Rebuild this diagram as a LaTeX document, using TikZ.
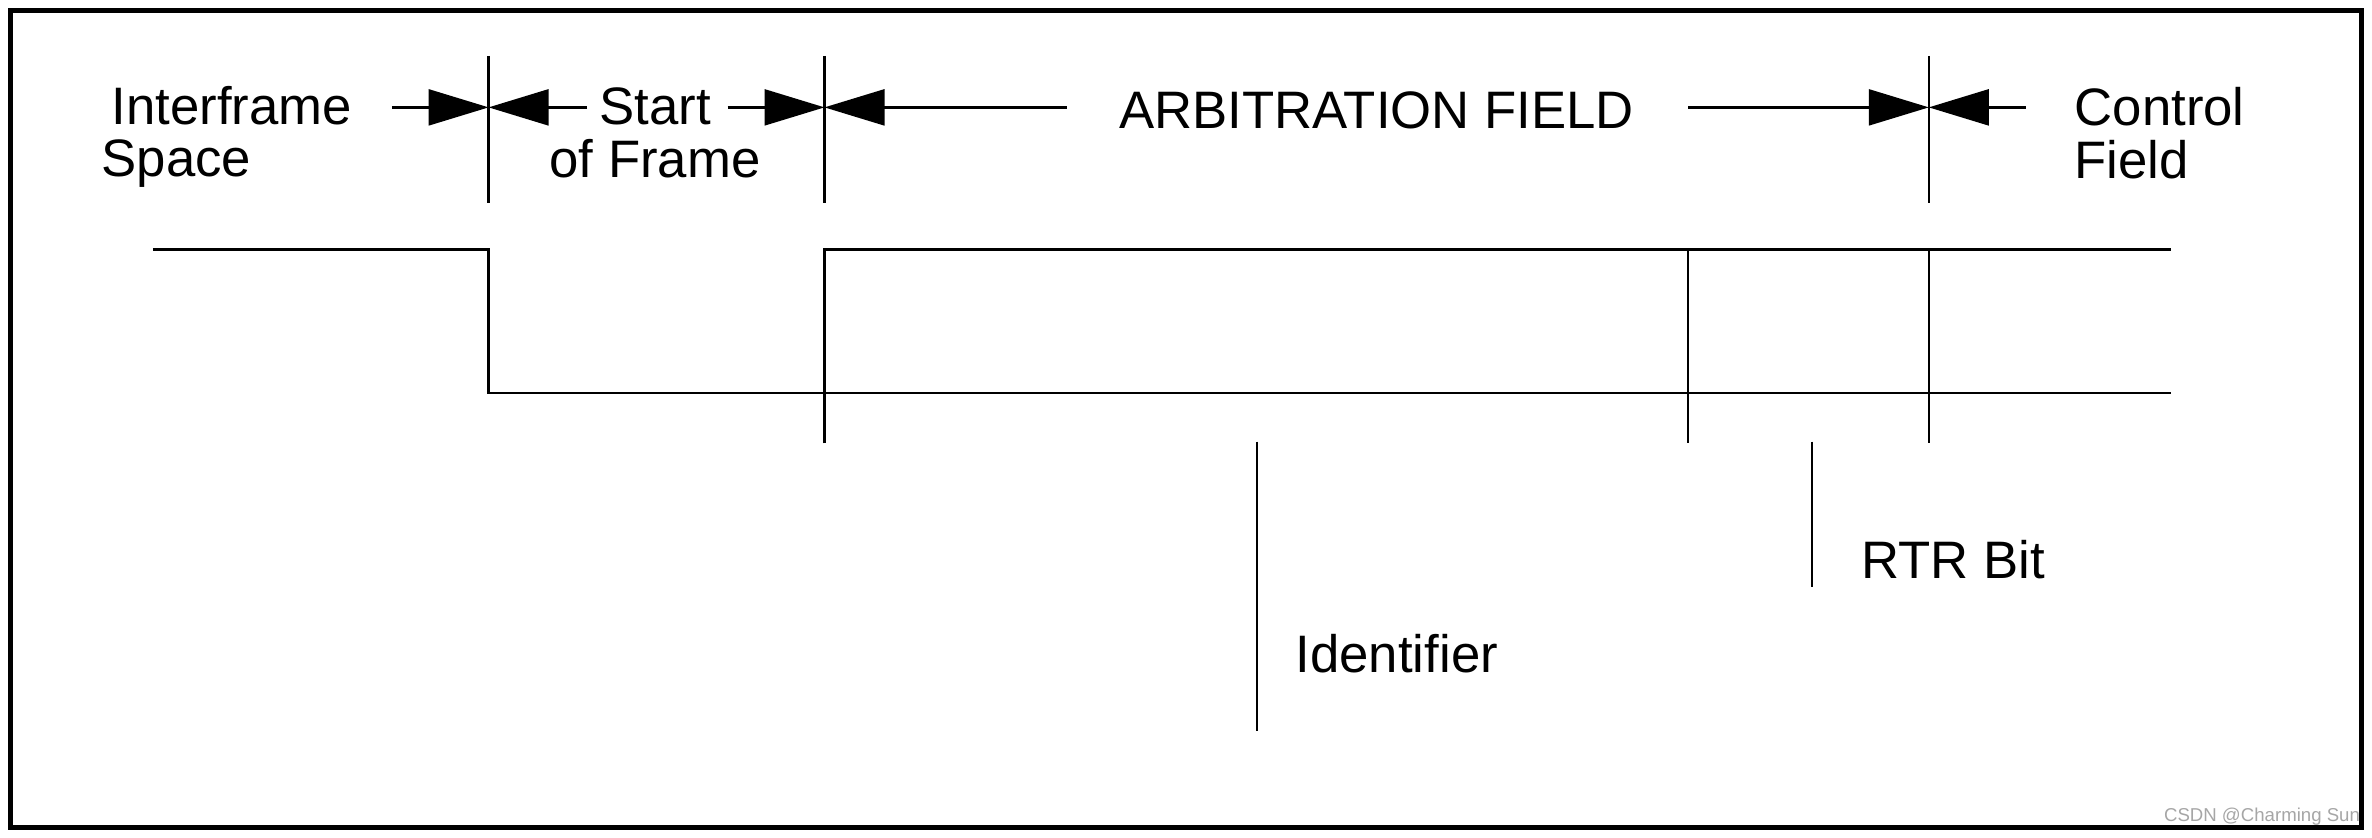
\documentclass[tikz,border=0pt]{standalone}
\usepackage{fontspec}
\setmainfont{Liberation Sans}
\usetikzlibrary{arrows.meta}

\tikzset{
  fieldlabel/.style={inner sep=0pt, font=\fontsize{15}{15}\selectfont},
  dimarrow/.style={line width=0.65pt, -{Triangle[length=0.6cm,width=0.36cm]}},
  sigline/.style={line width=0.65pt},
}

\begin{document}
\begin{tikzpicture}
  \useasboundingbox (0,0) rectangle (23.72,8.38);
  \draw[line width=1.3pt] (0.105,0.105) rectangle (23.615,8.274);

  % Field boundaries above the bus levels.
  \foreach \x/\name in {4.886/b1, 8.245/b2, 19.288/b3} {
    \coordinate (\name t) at (\x,7.82);
    \coordinate (\name b) at (\x,6.353);
    \coordinate (\name m) at (\x,7.306);
    \draw[sigline] (\name t) -- (\name b);
  }

  % Field names.
  \node[fieldlabel,align=left,anchor=west] (ifs) at (1.01,7.01) {\hspace*{0.1cm}Interframe\\Space};
  \node[fieldlabel,align=center] (sof) at (6.55,7.05) {Start\\of Frame};
  \node[fieldlabel] (arb) at (13.766,7.276) {ARBITRATION FIELD};
  \node[fieldlabel,align=left,anchor=west] (ctl) at (20.74,7.05) {Control\\Field};

  % Extent arrows, each pointing at a boundary.
  \coordinate (ifsR) at (3.918,7.306);
  \coordinate (sofL) at (5.87,7.306);
  \coordinate (sofR) at (7.277,7.306);
  \coordinate (arbL) at (10.665,7.306);
  \coordinate (arbR) at (16.883,7.306);
  \coordinate (ctlL) at (20.256,7.306);
  \foreach \a/\b in {ifsR/b1m, sofL/b1m, sofR/b2m, arbL/b2m, arbR/b3m, ctlL/b3m}
    \draw[dimarrow] (\a) -- (\b);

  % Bus levels: recessive idle, dominant SOF, then the arbitration bits.
  \draw[sigline] (1.528,5.884) -- (4.886,5.884) -- (4.886,4.447) -- (21.709,4.447);
  \draw[sigline] (8.245,3.947) -- (8.245,5.884) -- (21.709,5.884);
  \draw[sigline] (16.883,5.884) -- (16.883,3.947);
  \draw[sigline] (19.288,5.884) -- (19.288,3.947);

  % Sub-field pointers.
  \draw[sigline] (12.571,3.963) -- (12.571,1.073);
  \node[fieldlabel,anchor=west] (ident) at (12.95,1.845) {Identifier};
  \draw[sigline] (18.123,3.963) -- (18.123,2.51);
  \node[fieldlabel,anchor=west] (rtr) at (18.607,2.783) {RTR Bit};

  \node[inner sep=0pt,text=black!35,font=\fontsize{5.3}{6}\selectfont] (wm)
    at (22.62,0.211) {CSDN @Charming Sun};
\end{tikzpicture}
\end{document}
